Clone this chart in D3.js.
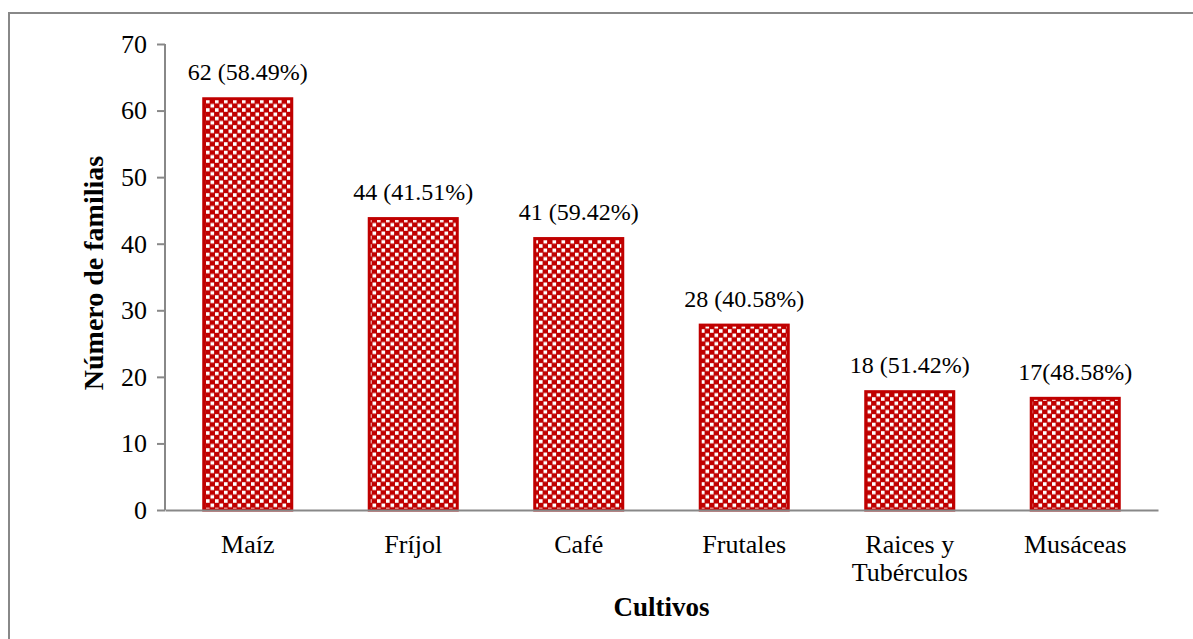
<!DOCTYPE html>
<html lang="es">
<head>
    <meta charset="UTF-8">
    <title>Cultivos</title>
</head>
<body style="margin:0;background:#fff">
<svg width="1193" height="639"></svg>
<script src="https://cdn.jsdelivr.net/npm/d3@7"></script>
<script>
    var cultivos = ["Maíz", "Fríjol", "Café", "Frutales", "Raices y|Tubérculos", "Musáceas"];
    var familias = [62, 44, 41, 28, 18, 17];
    var etiquetas = ["62 (58.49%)", "44 (41.51%)", "41 (59.42%)", "28 (40.58%)", "18 (51.42%)", "17(48.58%)"];
    var yTicks = [0, 10, 20, 30, 40, 50, 60, 70];

    var serif = "'Liberation Serif'";

    var svg = d3.select("svg"),
        margin = {top: 44, right: 35, bottom: 129, left: 165},
        width = +svg.attr("width") - margin.left - margin.right,
        height = +svg.attr("height") - margin.top - margin.bottom;

    // outer frame (right/bottom edges run off the picture)
    svg.append("path")
        .attr("d", "M9,639 V13 H1193")
        .attr("fill", "none")
        .attr("stroke", "#888")
        .attr("stroke-width", 2);

    var defs = svg.append("defs");
    var pat = defs.append("pattern")
        .attr("id", "checks")
        .attr("patternUnits", "userSpaceOnUse")
        .attr("width", 9).attr("height", 8.5);
    pat.append("rect").attr("width", 9).attr("height", 8.5).attr("fill", "#c00000");
    pat.append("rect").attr("x", 0.5).attr("y", 0.5).attr("width", 3.6).attr("height", 3.6).attr("fill", "#fff");
    pat.append("rect").attr("x", 5).attr("y", 4.7).attr("width", 3.6).attr("height", 3.6).attr("fill", "#fff");

    var xScale = d3.scaleBand().domain(cultivos).range([0, width]).paddingInner(0.45).paddingOuter(0.225),
        yScale = d3.scaleLinear().domain([0, 70]).range([height, 0]);

    var g = svg.append("g")
        .attr("transform", "translate(" + margin.left + "," + margin.top + ")");

    var yAxis = g.append("g")
        .call(d3.axisLeft(yScale).tickValues(yTicks).tickSize(8).tickPadding(10).tickSizeOuter(0));
    yAxis.select(".domain").attr("d", "M0," + height + "V0").attr("stroke", "#888").attr("stroke-width", 2);
    yAxis.selectAll(".tick line").attr("stroke", "#888").attr("stroke-width", 2);
    yAxis.selectAll(".tick text")
        .attr("fill", "#000")
        .style("font-family", serif)
        .style("font-size", "26px");

    g.selectAll(".bar")
        .data(familias)
        .enter()
        .append("rect")
        .attr("class", "bar")
        .attr("x", function(d, i) { return xScale(cultivos[i]) + 1.5; })
        .attr("y", function(d) { return yScale(d) + 1.5; })
        .attr("width", xScale.bandwidth() - 3)
        .attr("height", function(d) { return height - yScale(d) - 1.5; })
        .attr("fill", "url(#checks)")
        .attr("stroke", "#c00000")
        .attr("stroke-width", 3);

    var xAxis = g.append("g")
        .attr("transform", "translate(0," + height + ")")
        .call(d3.axisBottom(xScale).tickSize(0).tickSizeOuter(0).tickFormat(""));
    xAxis.select(".domain").attr("stroke", "#888").attr("stroke-width", 2);

    var xl = g.append("g")
        .selectAll("text")
        .data(cultivos)
        .enter()
        .append("text")
        .attr("text-anchor", "middle")
        .style("font-family", serif)
        .style("font-size", "26px")
        .attr("x", function(d) { return xScale(d) + xScale.bandwidth() / 2; })
        .attr("y", height + 43);
    xl.each(function(d) {
        var parts = d.split("|");
        var t = d3.select(this);
        parts.forEach(function(p, k) {
            t.append("tspan")
                .attr("x", t.attr("x"))
                .attr("dy", k === 0 ? 0 : 28)
                .text(p);
        });
    });

    g.append("g")
        .selectAll("text")
        .data(familias)
        .enter()
        .append("text")
        .attr("text-anchor", "middle")
        .style("font-family", serif)
        .style("font-size", "24px")
        .attr("x", function(d, i) { return xScale(cultivos[i]) + xScale.bandwidth() / 2; })
        .attr("y", function(d) { return yScale(d) - 17; })
        .text(function(d, i) { return etiquetas[i]; });

    svg.append("text")
        .attr("text-anchor", "middle")
        .style("font-family", serif)
        .style("font-size", "27px")
        .style("font-weight", "bold")
        .attr("x", margin.left + width / 2)
        .attr("y", 616)
        .text("Cultivos");

    svg.append("text")
        .attr("text-anchor", "middle")
        .style("font-family", serif)
        .style("font-size", "28px")
        .style("font-weight", "bold")
        .attr("transform", "translate(103,273) rotate(-90)")
        .text("Número de familias");
</script>
</body>
</html>
